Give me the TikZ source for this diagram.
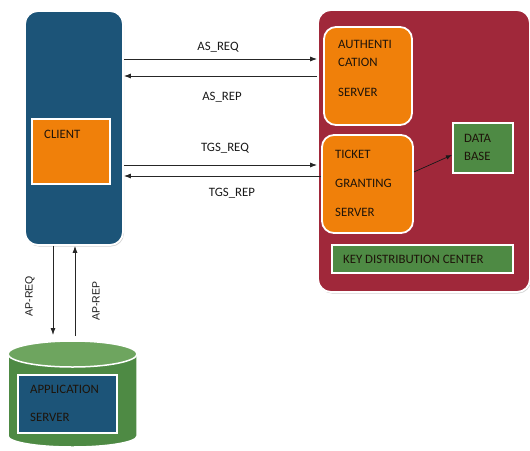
\documentclass[tikz,border=0pt]{standalone}
\usepackage{fontspec}
\setmainfont{Carlito}
\newfontfamily\arialfont{Liberation Sans}
\usetikzlibrary{arrows.meta,shadows}
\definecolor{cblue}{RGB}{28,84,120}
\definecolor{corange}{RGB}{240,128,10}
\definecolor{cred}{RGB}{160,40,58}
\definecolor{cgreen}{RGB}{78,138,68}
\definecolor{cgreenlt}{RGB}{110,165,95}
\definecolor{ctext}{RGB}{30,20,10}
\tikzset{
  bigbox/.style={draw=white, line width=1.8pt, rounded corners=13pt, inner sep=0pt,
    drop shadow={shadow xshift=1pt, shadow yshift=-1.5pt, opacity=0.35}},
  orbox/.style={draw=white, line width=1.8pt, fill=corange, rounded corners=12pt, inner sep=0pt},
  sqbox/.style={draw=white, line width=2pt, inner sep=0pt,
    drop shadow={shadow xshift=1pt, shadow yshift=-1pt, opacity=0.4}},
  lbl/.style={anchor=west, inner sep=0pt, text=ctext, font=\fontsize{12.8}{14}\selectfont},
  msg/.style={inner sep=0pt, text=black!90, font=\fontsize{12.8}{14}\selectfont},
  aplbl/.style={inner sep=0pt, text=black!90, font=\arialfont\fontsize{10.5}{12}\selectfont, rotate=90},
  conn/.style={draw=black!85, line width=0.8pt, -{Latex[length=7pt,width=5pt]}},
}
\begin{document}
\begin{tikzpicture}[x=1pt,y=-1pt]
\useasboundingbox (0,0) rectangle (530,450);
% client
\node[bigbox, fill=cblue, minimum width=98pt, minimum height=234pt] (client) at (74,128) {};
\node[sqbox, fill=corange, minimum width=78pt, minimum height=65pt] (clientin) at (71,151) {};
\node[lbl] (clienttxt) at (44,134) {CLIENT};
% KDC
\node[bigbox, fill=cred, minimum width=212pt, minimum height=282pt] (kdc) at (424,151) {};
\node[orbox, minimum width=88pt, minimum height=98pt] (as) at (368,76) {};
\node[lbl] (as1) at (338,44) {AUTHENTI};
\node[lbl] (as2) at (338,62) {CATION};
\node[lbl] (as3) at (338,92) {SERVER};
\node[orbox, minimum width=91pt, minimum height=98pt] (tgs) at (367.5,184) {};
\node[lbl] (tgs1) at (335,154) {TICKET};
\node[lbl] (tgs2) at (335,183) {GRANTING};
\node[lbl] (tgs3) at (335,212) {SERVER};
\node[sqbox, fill=cgreen, minimum width=60pt, minimum height=50pt] (db) at (483,148) {};
\node[lbl] (db1) at (464,138) {DATA};
\node[lbl] (db2) at (464,156) {BASE};
\node[sqbox, fill=cgreen, minimum width=181pt, minimum height=28pt] (kdclbl) at (422.5,259) {};
\node[lbl] (kdctxt) at (343,259) {KEY DISTRIBUTION CENTER};
% messages
\draw[conn] (client.east |- 0,59) -- (kdc.west |- 0,59);
\draw[conn] (kdc.west |- 0,76) -- (client.east |- 0,76);
\draw[conn] (client.east |- 0,165) -- (kdc.west |- 0,165);
\draw[conn] (tgs.west |- 0,176) -- (client.east |- 0,176);
\node[msg] (asreq) at (218,47) {AS\_REQ};
\node[msg] (asrep) at (222,97) {AS\_REP};
\node[msg] (tgsreq) at (225,148) {TGS\_REQ};
\node[msg] (tgsrep) at (232,193) {TGS\_REP};
\draw[draw=black!90, line width=0.7pt, -{Latex[length=6pt,width=4.5pt]}] (tgs.east |- 0,172) -- (db.west |- 0,155);
% application server cylinder
\coordinate (cyltop) at (72.5,354);
\fill[cgreen] (8,354) -- (8,436) arc[start angle=180, end angle=360, x radius=64.5pt, y radius=11pt] -- (137,354) -- cycle;
\draw[white, line width=1.5pt] (8,354) -- (8,436) arc[start angle=180, end angle=360, x radius=64.5pt, y radius=11pt] -- (137,354);
\draw[white, line width=1.5pt, fill=cgreenlt] (cyltop) ellipse[x radius=64.5pt, y radius=13pt];
\node[sqbox, fill=cblue, minimum width=99pt, minimum height=58pt] (app) at (67.5,404) {};
\node[lbl] (app1) at (30,389) {APPLICATION};
\node[lbl] (app2) at (30,417) {SERVER};
\coordinate (apreqend) at (53,335);
\coordinate (aprepstart) at (75,336);
\draw[conn] (client.south -| apreqend) -- (apreqend);
\draw[conn] (aprepstart) -- (client.south -| aprepstart);
\node[aplbl] (apreq) at (30,296) {AP-REQ};
\node[aplbl] (aprep) at (96,301) {AP-REP};
\end{tikzpicture}
\end{document}
